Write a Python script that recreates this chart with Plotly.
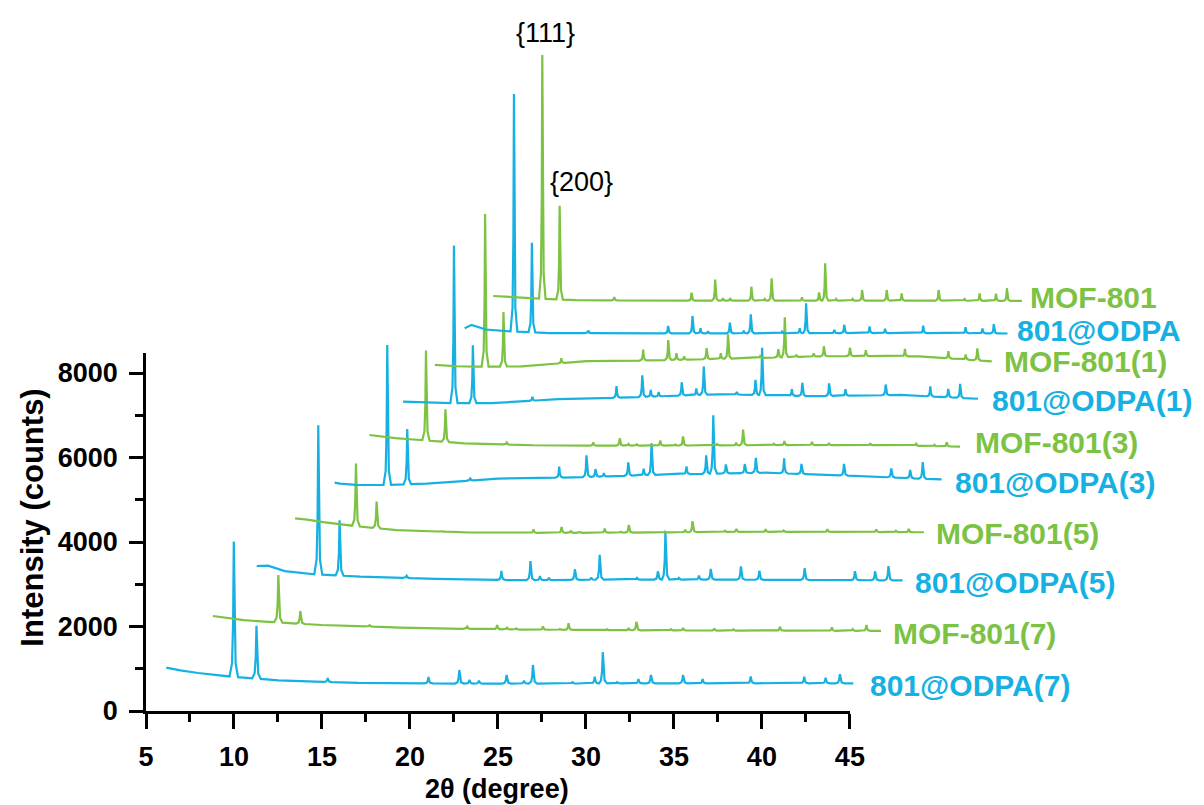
import numpy as np
import plotly.graph_objects as go

# ---------------------------------------------------------------------------
# PXRD patterns of MOF-801 and 801@ODPA after 0/1/3/5/7 cycles.
# Reflection positions are given as offsets (deg 2θ) from the {111} line.
# ---------------------------------------------------------------------------
PEAK_DELTA = [0.0, 1.27, 5.27, 10.92, 12.65, 13.22, 13.75, 15.3, 16.28, 16.78,
              19.0, 20.25, 20.7, 21.5, 22.7, 23.4, 25.2, 26.3, 29.0, 30.9,
              32.0, 33.2, 34.0]

# background knots (offset from {111}, deg 2θ)
BASE_DELTA = [-3.0, -2.0, -0.6, 2.5, 7.0, 12.0, 18.0, 24.0, 30.0, 35.2]

SAMPLES = ["801@ODPA(7)", "MOF-801(7)", "801@ODPA(5)", "MOF-801(5)", "801@ODPA(3)",
           "MOF-801(3)", "801@ODPA(1)", "MOF-801(1)", "801@ODPA", "MOF-801"]

# peak heights above background (counts), one entry per reflection
ODPA7_HEIGHT = [3200, 1250, 90, 150, 320, 85, 70, 205, 70, 440, 30, 160, 740, 30,
                100, 200, 200, 100, 165, 0, 155, 130, 215]
MOF7_HEIGHT = [1120, 300, 30, 55, 103, 40, 25, 80, 20, 158, 20, 50, 200, 0,
               30, 60, 50, 30, 95, 0, 80, 40, 142]
ODPA5_HEIGHT = [3530, 1310, 55, 213, 450, 95, 55, 252, 55, 592, 40, 197, 1120, 40,
                95, 252, 315, 213, 276, 0, 213, 213, 339]
MOF5_HEIGHT = [1480, 630, 20, 80, 142, 40, 20, 100, 20, 182, 20, 60, 260, 0,
               30, 70, 63, 30, 63, 0, 63, 30, 80]
ODPA3_HEIGHT = [3310, 1310, 50, 260, 513, 181, 79, 315, 158, 750, 181, 434, 1380, 213,
                213, 355, 355, 237, 276, 0, 213, 197, 394]
MOF3_HEIGHT = [2130, 770, 47, 79, 173, 40, 31, 118, 20, 213, 30, 60, 371, 0,
               30, 95, 80, 47, 47, 0, 47, 30, 95]
ODPA1_HEIGHT = [3730, 1370, 95, 276, 513, 158, 103, 315, 158, 671, 60, 355, 1120, 0,
                158, 315, 300, 158, 252, 0, 237, 197, 331]
MOF1_HEIGHT = [3610, 1290, 118, 260, 473, 158, 80, 260, 134, 576, 40, 197, 947, 40,
               80, 237, 197, 142, 173, 0, 173, 118, 284]
ODPA_HEIGHT = [5620, 2120, 63, 175, 410, 118, 50, 250, 60, 450, 40, 118, 710, 0,
               80, 197, 158, 100, 173, 0, 142, 118, 220]
MOF_HEIGHT = [5770, 2220, 80, 190, 500, 60, 60, 330, 40, 530, 80, 197, 883, 40,
              40, 252, 252, 173, 252, 40, 173, 173, 300]

# stacked background level (counts) at BASE_DELTA
ODPA7_BASE = [960, 900, 830, 725, 665, 650, 650, 655, 655, 655]
MOF7_BASE = [2200, 2150, 2110, 2035, 1975, 1935, 1915, 1905, 1900, 1895]
ODPA5_BASE = [3440, 3310, 3245, 3180, 3125, 3095, 3110, 3110, 3100, 3090]
MOF5_BASE = [4530, 4470, 4400, 4280, 4225, 4215, 4225, 4240, 4240, 4230]
ODPA3_BASE = [5380, 5350, 5345, 5380, 5500, 5530, 5600, 5640, 5560, 5480]
MOF3_BASE = [6500, 6460, 6420, 6335, 6290, 6280, 6285, 6295, 6290, 6255]
ODPA1_BASE = [7315, 7300, 7290, 7285, 7380, 7425, 7500, 7450, 7480, 7390]
MOF1_BASE = [8175, 8160, 8150, 8155, 8280, 8300, 8350, 8400, 8395, 8270]
ODPA_BASE = [9140, 9030, 8990, 8945, 8940, 8940, 8940, 8945, 8945, 8935]
MOF_BASE = [9810, 9790, 9765, 9725, 9715, 9712, 9712, 9712, 9712, 9705]

# first / last recorded point of each scan
START_DELTA = [-3.79, -3.78, -3.67, -3.74, -3.34, -3.69, -3.42, -3.47, -3.49, -3.59]
START_COUNTS = [1025, 2249, 3432, 4561, 5404, 6533, 7321, 8190, 9058, 9823]
END_DELTA = [34.75, 34.84, 34.84, 34.93, 35.2, 34.86, 35.2, 35.0, 34.97, 35.1]

HEIGHTS = [ODPA7_HEIGHT, MOF7_HEIGHT, ODPA5_HEIGHT, MOF5_HEIGHT, ODPA3_HEIGHT,
           MOF3_HEIGHT, ODPA1_HEIGHT, MOF1_HEIGHT, ODPA_HEIGHT, MOF_HEIGHT]
BASES = [ODPA7_BASE, MOF7_BASE, ODPA5_BASE, MOF5_BASE, ODPA3_BASE,
         MOF3_BASE, ODPA1_BASE, MOF1_BASE, ODPA_BASE, MOF_BASE]

# waterfall placement: 2θ at which each {111} line sits, and horizontal stretch
P111_POS = [9.99, 12.52, 14.79, 16.93, 18.71, 20.91, 22.50, 24.27, 25.91, 27.52]
STRETCH = [1.013, 0.983, 0.953, 0.924, 0.895, 0.8705, 0.846, 0.8227, 0.802, 0.7766]

CYAN = "#16B1E2"
GREEN = "#7CC243"
COLORS = [CYAN, GREEN] * 5

# label anchor (pixel position of the left edge / vertical centre of each name)
LABEL_PX = [(878, 685), (902, 633), (924, 582), (945, 533), (965, 483),
            (985, 442), (1002, 401), (1014, 361), (1028, 330), (1041, 298)]

# line profile used to draw each reflection
PROFILE_OFF = [-0.24, -0.1, -0.04, 0.0, 0.04, 0.1, 0.24]
PROFILE_FRAC = [0.0, 0.1, 0.4, 1.0, 0.4, 0.1, 0.0]

# plot geometry
W, H = 1204, 805
ML, MB = 146, 94
PX_PER_DEG = 17.85
PX_PER_COUNT = 0.04225
PLOT_W = W - ML
PLOT_H = H - MB


def build_pattern(start_d, start_c, end_d, base_vals, heights):
    kx = [start_d] + BASE_DELTA
    ky = [start_c] + base_vals

    def bg(d):
        return float(np.interp(d, kx, ky))

    pts = []
    windows = []
    for p, h in zip(PEAK_DELTA, heights):
        if h <= 0 or p + PROFILE_OFF[-1] > end_d:
            continue
        for o, f in zip(PROFILE_OFF, PROFILE_FRAC):
            pts.append((p + o, bg(p + o) + f * h))
        windows.append((p + PROFILE_OFF[0], p + PROFILE_OFF[-1]))
    for d, c in zip(kx, ky):
        if d < end_d and not any(a <= d <= b for a, b in windows):
            pts.append((d, c))
    pts.append((end_d, bg(end_d)))
    pts.sort(key=lambda t: t[0])
    return np.array([t[0] for t in pts]), np.array([t[1] for t in pts])


fig = go.Figure()

for i, name in enumerate(SAMPLES):
    d, c = build_pattern(START_DELTA[i], START_COUNTS[i], END_DELTA[i], BASES[i], HEIGHTS[i])
    x = P111_POS[i] + STRETCH[i] * d
    fig.add_trace(go.Scatter(
        x=x, y=c, mode="lines", name=name,
        line=dict(color=COLORS[i], width=2.2, shape="linear"),
        xaxis="x2", yaxis="y2", hoverinfo="skip", showlegend=False,
    ))

# anchor trace for the visible axes frame
fig.add_trace(go.Scatter(x=[5], y=[0], mode="markers", marker=dict(opacity=0),
                         xaxis="x", yaxis="y", hoverinfo="skip", showlegend=False))

FONT = "Liberation Sans, Arial, Helvetica, sans-serif"
tick_font = dict(family=FONT, size=27, color="black", weight="bold")

x_major = [5, 10, 15, 20, 25, 30, 35, 40, 45]
x_minor = [7.5, 12.5, 17.5, 22.5, 27.5, 32.5, 37.5, 42.5]
y_major = [0, 2000, 4000, 6000, 8000]
y_minor = [1000, 3000, 5000, 7000]
Y_AXIS_TOP = 8470

fig.update_layout(
    width=W, height=H,
    margin=dict(l=ML, r=0, t=0, b=MB, pad=0),
    paper_bgcolor="white", plot_bgcolor="rgba(0,0,0,0)",
    showlegend=False,
    xaxis=dict(
        domain=[0, 40 * PX_PER_DEG / PLOT_W], range=[5, 45], anchor="y",
        showline=True, linewidth=2.5, linecolor="black",
        ticks="outside", ticklen=15, tickwidth=2.5, tickcolor="black",
        tickvals=x_major, ticktext=[str(v) for v in x_major], tickfont=tick_font,
        minor=dict(tickvals=x_minor, ticks="outside", ticklen=8, tickwidth=2.5,
                   tickcolor="black", showgrid=False),
        ticklabelstandoff=5,
        showgrid=False, zeroline=False, fixedrange=True,
    ),
    yaxis=dict(
        domain=[0, Y_AXIS_TOP * PX_PER_COUNT / PLOT_H], range=[0, Y_AXIS_TOP], anchor="x",
        showline=True, linewidth=2.5, linecolor="black",
        ticks="outside", ticklen=14, tickwidth=2.5, tickcolor="black",
        tickvals=y_major, ticktext=[str(v) for v in y_major], tickfont=tick_font,
        minor=dict(tickvals=y_minor, ticks="outside", ticklen=8, tickwidth=2.5,
                   tickcolor="black", showgrid=False),
        ticklabelstandoff=6,
        showgrid=False, zeroline=False, fixedrange=True,
    ),
    xaxis2=dict(domain=[0, 1], range=[5, 5 + PLOT_W / PX_PER_DEG], anchor="y2",
                visible=False, fixedrange=True),
    yaxis2=dict(domain=[0, 1], range=[0, PLOT_H / PX_PER_COUNT], anchor="x2",
                visible=False, fixedrange=True),
)


def paper_x(px):
    return (px - ML) / PLOT_W


def paper_y(py):
    return (PLOT_H - py) / PLOT_H


annotations = []
for i, name in enumerate(SAMPLES):
    lx, ly = LABEL_PX[i]
    annotations.append(dict(
        x=paper_x(lx), y=paper_y(ly), xref="paper", yref="paper",
        xanchor="left", yanchor="middle", showarrow=False, text=name,
        font=dict(family=FONT, size=30, color=COLORS[i], weight="bold"),
    ))

annotations += [
    dict(x=paper_x(551), y=paper_y(33), xref="paper", yref="paper", text="{111}",
         showarrow=False, xanchor="center", yanchor="middle",
         font=dict(family=FONT, size=27, color="black")),
    dict(x=paper_x(588), y=paper_y(182), xref="paper", yref="paper", text="{200}",
         showarrow=False, xanchor="center", yanchor="middle",
         font=dict(family=FONT, size=27, color="black")),
    dict(x=paper_x(502), y=paper_y(789), xref="paper", yref="paper", text="2θ (degree)",
         showarrow=False, xanchor="center", yanchor="middle",
         font=dict(family=FONT, size=27, color="black", weight="bold")),
    dict(x=paper_x(30), y=paper_y(518), xref="paper", yref="paper",
         text="Intensity (counts)", textangle=-90,
         showarrow=False, xanchor="center", yanchor="middle",
         font=dict(family=FONT, size=31, color="black", weight="bold")),
]
fig.update_layout(annotations=annotations)

fig.write_html("out.html")
